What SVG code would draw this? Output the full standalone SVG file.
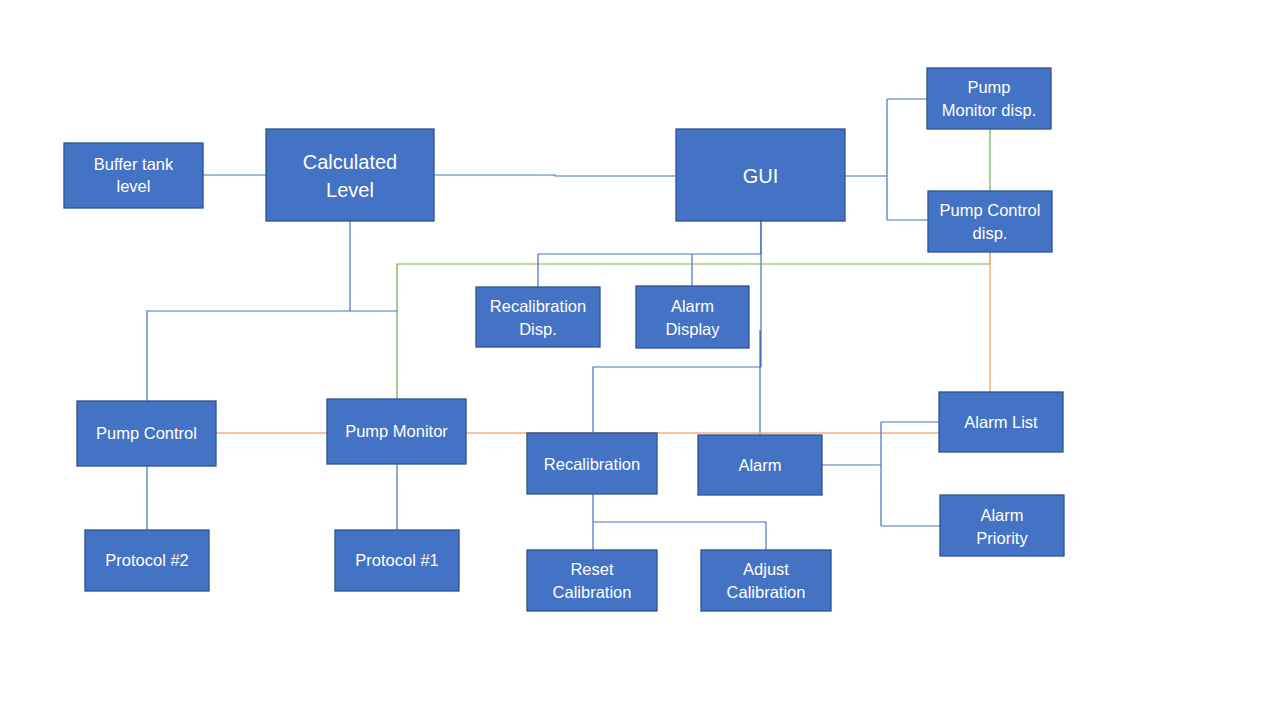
<svg xmlns="http://www.w3.org/2000/svg" width="1280" height="720" viewBox="0 0 1280 720">
<style>
.n{fill:#4472C4;stroke:#2F528F;stroke-width:1.3}
.t{fill:#fff;font-family:"Liberation Sans",Arial,sans-serif;font-size:16.5px;text-anchor:middle}
.tl{font-size:20px}
.b{fill:none;stroke:#4472C4;stroke-width:1.2}
.g{fill:none;stroke:#70AD47;stroke-width:1.2}
.o{fill:none;stroke:#F4B183;stroke-width:1.5}
</style>
<rect width="1280" height="720" fill="#fff"/>
<g id="connectors">
<path class="b" d="M203,175H266"/>
<path class="b" d="M434,175H555V176H676"/>
<path class="b" d="M845,176H887M887,99V220M887,99H927M887,220H928"/>
<path class="g" d="M990,129V191"/>
<path class="g" d="M990,252V264H397V399"/>
<path class="o" d="M990,252V392"/>
<path class="b" d="M350,221V311H147V401M350,311H397"/>
<path class="b" d="M761,221V254H538V287M692,254V286"/>
<path class="b" d="M761,221V367H593V433M760,330V435"/>
<path class="o" d="M216,433H327M466,433H939"/>
<path class="b" d="M822,465H881M881,422V526M881,422H939M881,526H940"/>
<path class="b" d="M593,494V550M593,522H766V550"/>
<path class="b" d="M147,466V530M397,464V530"/>
</g>
<g id="buffer"><rect class="n" x="64" y="143" width="139" height="65"/><text class="t" x="133.5" y="170">Buffer tank</text><text class="t" x="133.5" y="192">level</text></g>
<g id="calc"><rect class="n" x="266" y="129" width="168" height="92"/><text class="t tl" x="350" y="169">Calculated</text><text class="t tl" x="350" y="197">Level</text></g>
<g id="gui"><rect class="n" x="676" y="129" width="169" height="92"/><text class="t tl" x="760.5" y="183">GUI</text></g>
<g id="pmdisp"><rect class="n" x="927" y="68" width="124" height="61"/><text class="t" x="989" y="93">Pump</text><text class="t" x="989" y="116">Monitor disp.</text></g>
<g id="pcdisp"><rect class="n" x="928" y="191" width="124" height="61"/><text class="t" x="990" y="216">Pump Control</text><text class="t" x="990" y="239">disp.</text></g>
<g id="recaldisp"><rect class="n" x="476" y="287" width="124" height="60"/><text class="t" x="538" y="312">Recalibration</text><text class="t" x="538" y="335">Disp.</text></g>
<g id="alarmdisp"><rect class="n" x="636" y="286" width="113" height="62"/><text class="t" x="692.5" y="312">Alarm</text><text class="t" x="692.5" y="335">Display</text></g>
<g id="pumpcontrol"><rect class="n" x="77" y="401" width="139" height="65"/><text class="t" x="146.5" y="439">Pump Control</text></g>
<g id="pumpmonitor"><rect class="n" x="327" y="399" width="139" height="65"/><text class="t" x="396.5" y="437">Pump Monitor</text></g>
<g id="recal"><rect class="n" x="527" y="433" width="130" height="61"/><text class="t" x="592" y="470">Recalibration</text></g>
<g id="alarm"><rect class="n" x="698" y="435" width="124" height="60"/><text class="t" x="760" y="471">Alarm</text></g>
<g id="alarmlist"><rect class="n" x="939" y="392" width="124" height="60"/><text class="t" x="1001" y="428">Alarm List</text></g>
<g id="alarmprio"><rect class="n" x="940" y="495" width="124" height="61"/><text class="t" x="1002" y="521">Alarm</text><text class="t" x="1002" y="544">Priority</text></g>
<g id="proto2"><rect class="n" x="85" y="530" width="124" height="61"/><text class="t" x="147" y="566">Protocol #2</text></g>
<g id="proto1"><rect class="n" x="335" y="530" width="124" height="61"/><text class="t" x="397" y="566">Protocol #1</text></g>
<g id="reset"><rect class="n" x="527" y="550" width="130" height="61"/><text class="t" x="592" y="575">Reset</text><text class="t" x="592" y="598">Calibration</text></g>
<g id="adjust"><rect class="n" x="701" y="550" width="130" height="61"/><text class="t" x="766" y="575">Adjust</text><text class="t" x="766" y="598">Calibration</text></g>
</svg>
